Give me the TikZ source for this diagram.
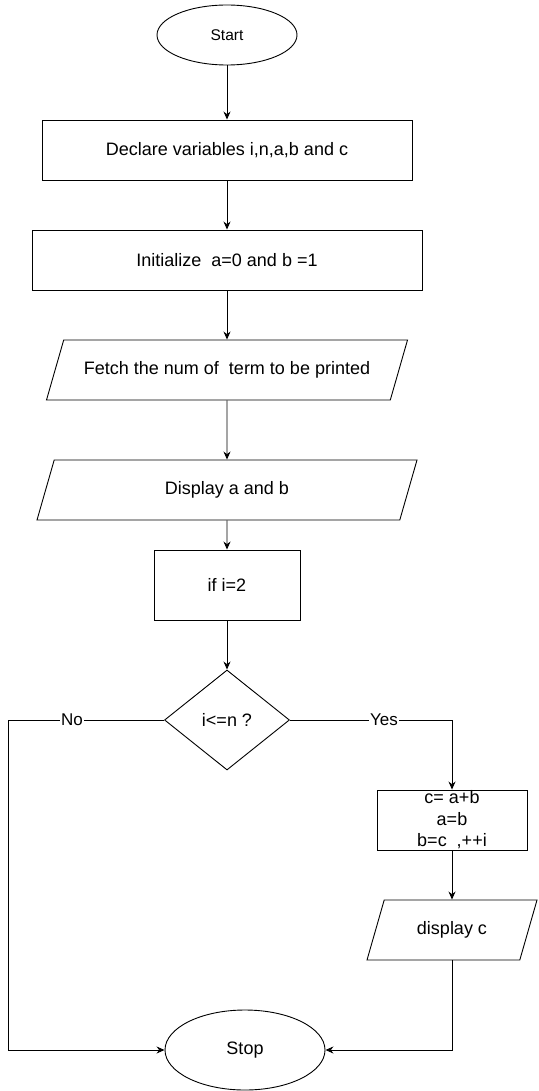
\documentclass[tikz,border=0pt]{standalone}
\usepackage{fontspec}
\setmainfont{Liberation Sans}
\usetikzlibrary{shapes.geometric,arrows.meta}

\begin{document}
\begin{tikzpicture}[x = 1pt, y = -1pt, line width = 0.9pt,
        font = \fontsize{18}{21.5}\selectfont,
        terminal/.style = {draw, ellipse, inner sep = 0pt},
        process/.style = {draw, rectangle, minimum height = 60pt, inner sep = 0pt},
        inout/.style = {draw, trapezium, trapezium left angle = 74, trapezium right angle = 106,
            trapezium stretches body = true, text height = 13pt, text depth = 4pt,
            inner xsep = 0pt, inner ysep = 21.5pt},
        decision/.style = {draw, diamond, aspect = 1.25, minimum width = 125pt,
            minimum height = 100pt, inner sep = 0pt},
        flow/.style = {-{Stealth[length = 8pt, width = 7pt]}},
        answer/.style = {fill = white, inner sep = 1pt, font = \fontsize{17}{20}\selectfont}]

        \useasboundingbox (0, 0) rectangle (538, 1091);

        % Start, declarations and input down the middle.
        \node[terminal, minimum width = 140pt, minimum height = 60pt,
            font = \fontsize{15.5}{18}\selectfont] (start) at (227, 35) {Start};
        \node[process, minimum width = 370pt] (declare) at (227, 150) {Declare variables i,n,a,b and c};
        \node[process, minimum width = 390pt] (init) at (227, 260) {Initialize\ \ a=0 and b =1};
        \node[inout, minimum width = 361pt] (fetch) at (227, 370) {Fetch the num of\ \ term to be printed};
        \node[inout, minimum width = 380pt] (display) at (227, 490) {Display a and b};
        \node[process, minimum width = 146pt, minimum height = 70pt] (ifi) at (227, 585) {if i=2};

        % Loop test and its body on the right.
        \node[decision] (cond) at (227, 720) {i<=n ?};
        \node[process, minimum width = 150pt, align = center] (calc) at (452, 820) {c= a+b\\a=b\\b=c\ \ ,++i};
        \node[inout, minimum width = 170pt] (dispc) at (452, 930) {display c};

        % End of the chart and the left return rail.
        \node[terminal, minimum width = 160pt, minimum height = 80pt] (stop) at (245, 1050) {Stop};
        \coordinate (rail) at (8, 720);

        % Straight arrows down the main column.
        \draw[flow] (start) to (declare);
        \draw[flow] (declare) to (init);
        \draw[flow] (init) to (fetch);
        \draw[flow] (fetch) to (display);
        \draw[flow] (display) to (ifi);
        \draw[flow] (ifi) to (cond);

        % Branches out of the test.
        \draw[flow] (cond.east) -| node[answer, pos = 0.29] {Yes} (calc.north);
        \draw[flow] (cond.west) -- node[answer, pos = 0.59] {No} (rail) |- (stop.west);
        \draw[flow] (calc) to (dispc);
        \draw[flow] (dispc.south) |- (stop.east);
    \end{tikzpicture}
\end{document}
